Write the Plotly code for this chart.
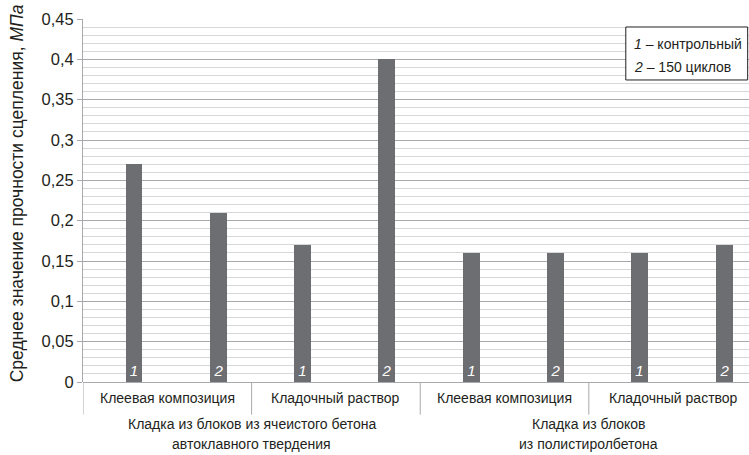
import plotly.graph_objects as go

# Adhesion strength per masonry variant (MPa)
series_labels = ["1", "2", "1", "2", "1", "2", "1", "2"]
strength = [0.27, 0.21, 0.17, 0.40, 0.16, 0.16, 0.16, 0.17]

sub_categories = ["Клеевая композиция", "Кладочный раствор",
                  "Клеевая композиция", "Кладочный раствор"]
groups = [["Кладка из блоков из ячеистого бетона", "автоклавного твердения"],
          ["Кладка из блоков", "из полистиролбетона"]]

y_ticks = [0, 0.05, 0.1, 0.15, 0.2, 0.25, 0.3, 0.35, 0.4, 0.45]
y_tick_text = ["0", "0,05", "0,1", "0,15", "0,2", "0,25", "0,3", "0,35", "0,4", "0,45"]

legend_lines = ["<i>1</i> – контрольный", "<i>2</i> – 150 циклов"]

FONT = "Liberation Sans, Arial, sans-serif"
TEXT = "#231f20"
BAR = "#6d6e71"
MAJOR = "#a7a9ac"
MINOR = "#d6d7d9"

positions = list(range(len(strength)))

fig = go.Figure(go.Bar(
    x=positions,
    y=strength,
    width=0.2,
    offset=0.005,
    marker=dict(color=BAR, line=dict(width=0)),
    text=[f"<i>{s}</i>" for s in series_labels],
    textposition="inside",
    insidetextanchor="start",
    textangle=0,
    textfont=dict(family=FONT, size=15, color="white"),
    hoverinfo="skip",
))

shapes = []
# category dividers below the axis
for k in range(len(sub_categories)):
    xd = 2 * k - 0.5
    shapes.append(dict(type="line", xref="x", yref="paper",
                       x0=xd, x1=xd, y0=0, y1=-0.09,
                       line=dict(color=MAJOR, width=1)))
# legend box
shapes.append(dict(type="rect", xref="paper", yref="paper",
                   x0=0.815, x1=0.998, y0=0.832, y1=0.978,
                   line=dict(color=TEXT, width=1), fillcolor="white"))

annotations = []
for k, name in enumerate(sub_categories):
    annotations.append(dict(x=2 * k + 0.5, y=-0.045, xref="x", yref="paper",
                            text=name, showarrow=False, xanchor="center",
                            yanchor="middle",
                            font=dict(family=FONT, size=14, color=TEXT)))
for g, lines in enumerate(groups):
    for j, line in enumerate(lines):
        annotations.append(dict(x=4 * g + 1.5, y=-0.116 - j * 0.056,
                                xref="x", yref="paper",
                                text=line, showarrow=False, xanchor="center",
                                yanchor="middle",
                                font=dict(family=FONT, size=14, color=TEXT)))
for j, line in enumerate(legend_lines):
    annotations.append(dict(x=0.824, y=0.932 - j * 0.064, xref="paper", yref="paper",
                            text=line, showarrow=False, xanchor="left",
                            yanchor="middle",
                            font=dict(family=FONT, size=14, color=TEXT)))
annotations.append(dict(x=-0.099, y=0.52, xref="paper", yref="paper",
                        text="Среднее значение прочности сцепления, <i>МПа</i>",
                        textangle=-90, showarrow=False, xanchor="center",
                        yanchor="middle",
                        font=dict(family=FONT, size=17.5, color=TEXT)))

fig.update_layout(
    width=749, height=455,
    margin=dict(l=83, r=0, t=19, b=73),
    paper_bgcolor="white", plot_bgcolor="white",
    showlegend=False,
    shapes=shapes,
    annotations=annotations,
    bargap=0,
    xaxis=dict(range=[-0.5, 7.4], showticklabels=False, showgrid=False,
               zeroline=False, showline=False, ticks=""),
    yaxis=dict(range=[0, 0.45], tickvals=y_ticks, ticktext=y_tick_text,
               tickfont=dict(family=FONT, size=16.5, color=TEXT),
               showgrid=True, gridcolor=MAJOR, gridwidth=1,
               minor=dict(dtick=0.01, showgrid=True, gridcolor=MINOR,
                          gridwidth=1, ticks=""),
               ticks="outside", ticklen=5, tickcolor=MAJOR,
               showline=True, linecolor=MAJOR, linewidth=1,
               zeroline=True, zerolinecolor=MAJOR, zerolinewidth=1,
               fixedrange=True),
)

fig.write_html("out.html")
